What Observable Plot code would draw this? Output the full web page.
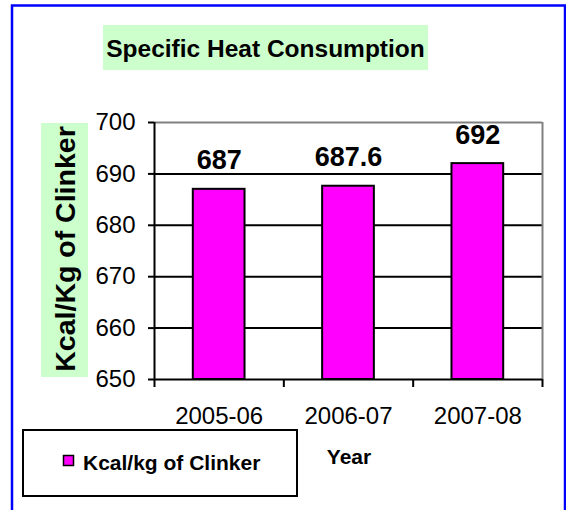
<!DOCTYPE html>
<html>
<head>
<meta charset="utf-8">
<script src="https://cdn.jsdelivr.net/npm/d3@7"></script>
<script src="https://cdn.jsdelivr.net/npm/@observablehq/plot@0.6"></script>
<style>
  html, body { margin: 0; padding: 0; background: white; }
  #chart { width: 566px; height: 510px; overflow: hidden; }
</style>
</head>
<body>
<div id="chart"></div>
<script>
const chartTitle = "Specific Heat Consumption";
const years = ["2005-06", "2006-07", "2007-08"];
const heat = [687, 687.6, 692];
const yTicks = [650, 660, 670, 680, 690, 700];
const seriesName = "Kcal/kg of Clinker";
const yLabel = "Kcal/Kg of Clinker";
const xLabel = "Year";

const rows = years.map((y, i) => ({year: y, i, value: heat[i]}));
const FONT = "'Liberation Sans', Arial, sans-serif";
const MAGENTA = "#ff00ff";
const GREEN_BG = "#ccffcc";

const chart = Plot.plot({
  width: 566,
  height: 510,
  marginLeft: 154,
  marginRight: 24,
  marginTop: 122,
  marginBottom: 131,
  style: {fontFamily: FONT, background: "white", color: "black", overflow: "visible"},
  x: {type: "linear", domain: [0, years.length], axis: null},
  y: {domain: [yTicks[0], yTicks[yTicks.length - 1]], axis: null},
  marks: [
    Plot.ruleY(yTicks.slice(1, -1), {stroke: "black", strokeWidth: 2}),
    Plot.ruleY(yTicks.slice(-1), {stroke: "#808080", strokeWidth: 2}),
    Plot.ruleX([years.length], {stroke: "#808080", strokeWidth: 2}),
    Plot.rectY(rows, {
      x1: d => d.i + 0.3, x2: d => d.i + 0.7,
      y1: yTicks[0], y2: "value",
      fill: MAGENTA, stroke: "black", strokeWidth: 2
    }),
    Plot.ruleY(yTicks.slice(0, 1), {stroke: "black", strokeWidth: 2}),
    Plot.ruleX([0], {stroke: "black", strokeWidth: 2}),
    Plot.axisY({ticks: yTicks, tickSize: 6, tickPadding: 13, fontSize: 24, strokeWidth: 2, label: null, tickFormat: d => String(d)}),
    Plot.axisX({ticks: d3.range(years.length + 1), tickSize: 8, strokeWidth: 2, tickFormat: () => "", label: null}),
    Plot.axisX({ticks: rows.map(d => d.i + 0.5), tickSize: 0, tickPadding: 27, fontSize: 24, label: null,
      tickFormat: t => years[Math.floor(t)]}),
    Plot.text(rows, {
      x: d => d.i + 0.5, y: "value", text: d => String(d.value),
      fontSize: 27, fontWeight: "bold", lineAnchor: "bottom", dy: -20, fill: "black"
    })
  ]
});

document.getElementById("chart").appendChild(chart);

const svg = d3.select(chart);

// outer blue border
svg.append("rect")
  .attr("x", 12).attr("y", 5.5).attr("width", 553).attr("height", 530)
  .attr("fill", "none").attr("stroke", "#0000ff").attr("stroke-width", 2.5);

// title
svg.append("rect")
  .attr("x", 103).attr("y", 25).attr("width", 325).attr("height", 45)
  .attr("fill", GREEN_BG);
svg.append("text")
  .attr("x", 265.5).attr("y", 57)
  .attr("text-anchor", "middle")
  .attr("font-family", FONT).attr("font-weight", "bold").attr("font-size", 24.5)
  .attr("fill", "black")
  .text(chartTitle);

// y axis label
svg.append("rect")
  .attr("x", 41).attr("y", 123).attr("width", 47).attr("height", 254)
  .attr("fill", GREEN_BG);
svg.append("text")
  .attr("transform", "translate(75,249) rotate(-90)")
  .attr("text-anchor", "middle")
  .attr("font-family", FONT).attr("font-weight", "bold").attr("font-size", 28.5)
  .attr("fill", "black")
  .text(yLabel);

// x axis label
svg.append("text")
  .attr("x", 349).attr("y", 464)
  .attr("text-anchor", "middle")
  .attr("font-family", FONT).attr("font-weight", "bold").attr("font-size", 21)
  .attr("fill", "black")
  .text(xLabel);

// legend
svg.append("rect")
  .attr("x", 23).attr("y", 430).attr("width", 274).attr("height", 66)
  .attr("fill", "white").attr("stroke", "black").attr("stroke-width", 2);
svg.append("rect")
  .attr("x", 63.5).attr("y", 455.5).attr("width", 10).attr("height", 10)
  .attr("fill", MAGENTA).attr("stroke", "black").attr("stroke-width", 1.5);
svg.append("text")
  .attr("x", 83).attr("y", 470)
  .attr("text-anchor", "start")
  .attr("font-family", FONT).attr("font-weight", "bold").attr("font-size", 21)
  .attr("fill", "black")
  .text(seriesName);
</script>
</body>
</html>
